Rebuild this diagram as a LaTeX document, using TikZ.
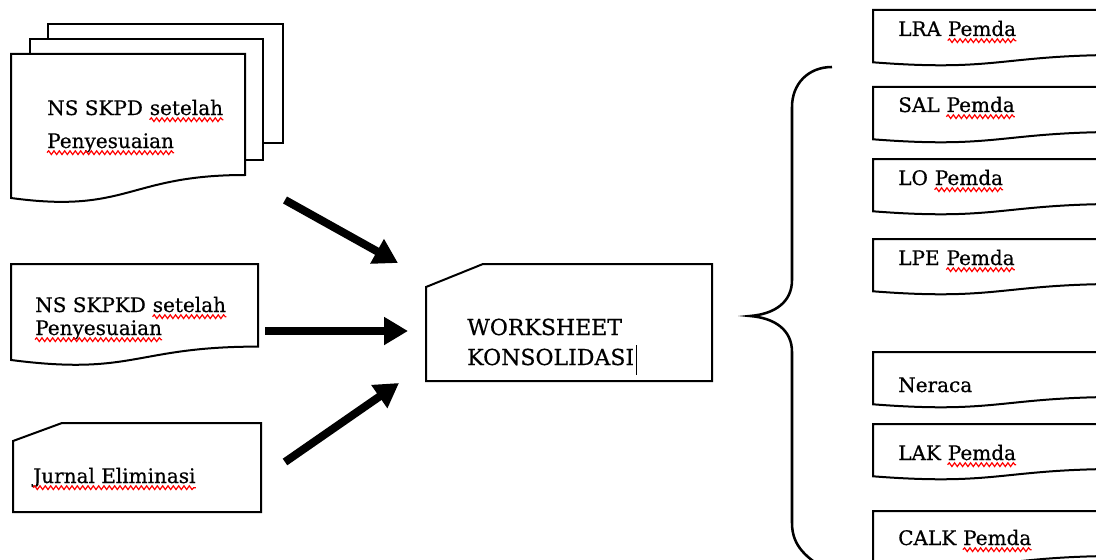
\documentclass[tikz,border=0pt]{standalone}
\usepackage{fontspec}
\setmainfont{DejaVu Serif}[FakeBold=0.6]
\usetikzlibrary{arrows.meta,decorations.pathmorphing,calc}

\tikzset{
    txt/.style={inner sep=0pt, anchor=base west, font=\fontsize{15}{17}\selectfont},
    bigtxt/.style={txt, font=\fontsize{16.5}{19}\selectfont},
    shp/.style={draw, line width=1.5pt, fill=white},
    spell/.style={draw=red, line width=0.9pt, decorate,
        decoration={snake, amplitude=1.4pt, segment length=4pt}},
    fat/.style={line width=6pt, -{Triangle[length=18pt,width=20pt]}},
}
\def\gap{4.8pt}

\begin{document}
\begin{tikzpicture}[x=0.75pt, y=-0.75pt]
        \useasboundingbox (0,0) rectangle (1096,560);
        \clip (0,0) rectangle (1096,560);
        % stack of documents
        \draw[shp] (48,24) rectangle (283,143);
        \draw[shp] (30,39) rectangle (263,160);
        \draw[shp] (11,54) -- (245,54) -- (245,175)
            .. controls (128,175) and (128,214) .. (11,198) -- cycle;
        \node[txt] (skpdA) at (47,115) {NS SKPD};
        \node[txt] (skpdB) at ([xshift=\gap]skpdA.base east) {setelah};
        \node[txt] (skpdC) at (47,148) {Penyesuaian};
        % single document
        \draw[shp] (11,264) -- (258,264) -- (258,346.6)
            .. controls (134.5,346.6) and (134.5,376) .. (11,360) -- cycle;
        \node[txt] (skpkdA) at (35,312) {NS SKPKD};
        \node[txt] (skpkdB) at ([xshift=\gap]skpkdA.base east) {setelah};
        \node[txt] (skpkdC) at (35,335) {Penyesuaian};
        % punched cards
        \draw[shp] (13,441) -- (62,423) -- (261,423) -- (261,512) -- (13,512) -- cycle;
        \node[txt] (jurnal) at (33,483) {Jurnal Eliminasi};
        \draw[shp] (426,287) -- (483,264) -- (712,264) -- (712,381) -- (426,381) -- cycle;
        \node[bigtxt] (wsA) at (467,335) {WORKSHEET};
        \node[bigtxt] (wsB) at (467,365) {KONSOLIDASI};
        \draw[line width=0.9pt] ($(wsB.base east)+(2,-20)$) -- ($(wsB.base east)+(2,10)$);
        % reports
        \foreach \top/\name/\lbl/\ty in {10/lra/LRA/36, 87/sal/SAL/112, 159/lo/LO/185,
                239/lpe/LPE/265, 424/lak/LAK/460, 511/calk/CALK/545} {
            \draw[shp] (873,\top) -- (1125,\top) -- (1125,\top+44.9)
                .. controls (999,\top+44.9) and (999,\top+62) .. (873,\top+52.3) -- cycle;
            \node[txt] (\name) at (898,\ty) {\lbl};
            \node[txt] (\name p) at ([xshift=\gap]\name.base east) {Pemda};
        }
        \draw[shp] (873,352) -- (1125,352) -- (1125,396.9)
            .. controls (999,396.9) and (999,414) .. (873,404.3) -- cycle;
        \node[txt] (neraca) at (898,392) {Neraca};
        % spelling marks
        \foreach \w in {skpdB, skpdC, skpkdB, skpkdC, jurnal, lrap, salp, lop, lpep, lakp, calkp}
            \draw[spell] ([yshift=-3.5pt]\w.base west) -- ([yshift=-3.5pt]\w.base east);
        % brace
        \draw[line width=1.9pt]
            (832,67) .. controls (808,67) and (792,84) .. (792,107) -- (792,280)
            .. controls (792,302) and (775,314) .. (750,316)
            .. controls (775,318) and (792,330) .. (792,352) -- (792,523)
            .. controls (792,546) and (806,558) .. (830,572);
        % arrows
        \coordinate (a1s) at (285,200);
        \coordinate (a1e) at (398,263);
        \coordinate (a2s) at (265,331);
        \coordinate (a2e) at (408,331);
        \coordinate (a3s) at (285,462);
        \coordinate (a3e) at (399,383);
        \draw[fat] (a1s) -- (a1e);
        \draw[fat] (a2s) -- (a2e);
        \draw[fat] (a3s) -- (a3e);
    \end{tikzpicture}
\end{document}
